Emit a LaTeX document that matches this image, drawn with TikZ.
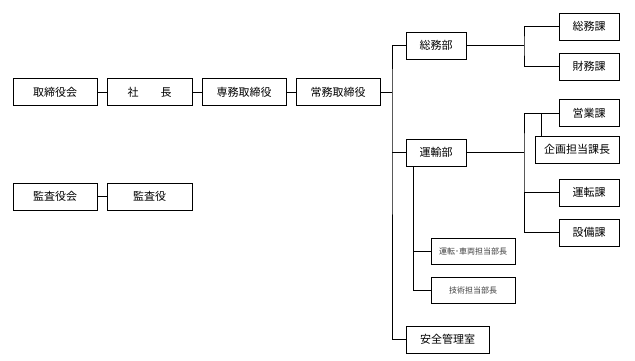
\documentclass[tikz,border=0pt]{standalone}
\usepackage{fontspec}
\newfontfamily\jp{Noto Sans CJK JP}
\begin{document}
\begin{tikzpicture}[x=1pt,y=-1pt,
  box/.style={draw=black,line width=1pt,fill=white,inner sep=0pt,minimum height=27pt,font=\jp\fontsize{11}{13}\selectfont},
  sbox/.style={draw=black,line width=1pt,fill=white,inner sep=0pt,minimum height=26pt,minimum width=84pt,text=black!75,font=\jp\fontsize{8}{10}\selectfont},
  conn/.style={line width=0.9pt,draw=black}]
\useasboundingbox (0,0) rectangle (635,360);
% left chain
\node[box,minimum width=84pt] (kai) at (55,92) {取締役会};
\node[box,minimum width=85pt] (sha) at (149.5,92) {社\quad\quad 長\hspace{0.3em}};
\node[box,minimum width=84pt] (sen) at (244,92) {専務取締役};
\node[box,minimum width=84pt] (jo) at (338,92) {常務取締役};
\node[box,minimum width=84pt] (kkai) at (55,196.5) {監査役会};
\node[box,minimum width=85pt] (kyaku) at (149.5,196.5) {監査役};
% departments
\node[box,minimum width=60pt] (somubu) at (436,45.5) {総務部};
\node[box,minimum width=60pt] (unyubu) at (436,152.5) {運輸部};
\node[box,minimum width=83pt] (anzen) at (447.5,339.5) {安全管理室};
% sections
\node[box,minimum width=60pt] (somuka) at (589,26.5) {総務課};
\node[box,minimum width=60pt] (zaimuka) at (589,66.5) {財務課};
\node[box,minimum width=60pt] (eigyo) at (589,113) {営業課};
\node[box,minimum width=84pt] (kikaku) at (577,149.5) {企画担当課長};
\node[box,minimum width=60pt] (unten) at (589,192.5) {運転課};
\node[box,minimum width=60pt] (setsubi) at (589,232.5) {設備課};
\node[sbox] (sharyo) at (473,251) {運転･車両担当部長};
\node[sbox] (gijutsu) at (473,290) {技術担当部長};
% coordinates
\coordinate (trunk) at (392,92);
\coordinate (s1) at (524,45.5);
\coordinate (u1) at (524,152.5);
\coordinate (kk) at (541,113);
\coordinate (v) at (413,166);
% connectors
\draw[conn] (kai) -- (sha);
\draw[conn] (sha) -- (sen);
\draw[conn] (sen) -- (jo);
\draw[conn] (kkai) -- (kyaku);
\draw[conn] (jo) -- (trunk);
\draw[conn] (somubu.west) -| (trunk) |- (anzen.west);
\draw[conn] (unyubu.west) -- (unyubu.west -| trunk);
\draw[conn] (somubu.east) -- (s1);
\draw[conn] (somuka.west) -| (s1) |- (zaimuka.west);
\draw[conn] (unyubu.east) -- (u1);
\draw[conn] (eigyo.west) -| (u1) |- (setsubi.west);
\draw[conn] (unten.west) -- (unten.west -| u1);
\draw[conn] (kk) -- (kk |- kikaku.north);
\draw[conn] (v) |- (gijutsu.west);
\draw[conn] (sharyo.west) -- (sharyo.west -| v);
\end{tikzpicture}
\end{document}
